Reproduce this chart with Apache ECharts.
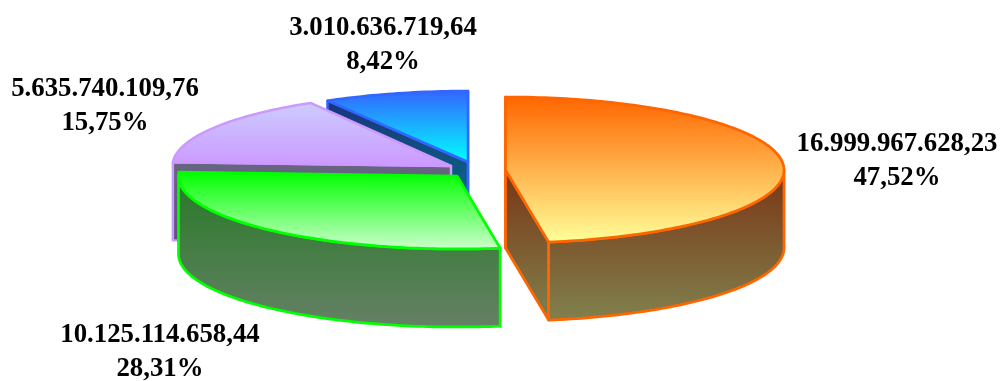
<!DOCTYPE html>
<html>
<head>
<meta charset="utf-8">
<style>html,body{margin:0;padding:0;background:#fff}#c{width:1003px;height:381px}</style>
<script src="https://cdn.jsdelivr.net/npm/echarts@6/dist/echarts.min.js"></script>
</head>
<body>
<div id="c"></div>
<script>
// Data, clockwise from 12 o'clock
const categories = ['Fatia 1', 'Fatia 2', 'Fatia 3', 'Fatia 4'];
const values = [16999967628.23, 10125114658.44, 5635740109.76, 3010636719.64];
const valueLabels = ['16.999.967.628,23', '10.125.114.658,44', '5.635.740.109,76', '3.010.636.719,64'];
const percentLabels = ['47,52%', '28,31%', '15,75%', '8,42%'];

// Style
const topFrom = ['#FF6600', '#00FF00', '#CCCCFF', '#3366FF'];
const topTo = ['#FFFF99', '#CCFFCC', '#CC99FF', '#00FFFF'];
const sideFrom = ['#7A3514', '#267A26', '#666680', '#1A3380'];
const sideTo = ['#80804D', '#668066', '#664D80', '#008080'];
const borders = ['#FF6600', '#00FF00', '#CC99FF', '#3366FF'];
const borderWidths = [2.75, 2.75, 2.5, 2.5];

// Layout
const centers = [[505.5, 170], [457, 176], [451, 166], [468, 162]];
const radiiY = [73, 73, 73, 71];
const labelAt = [[897, 144], [160, 335], [105, 89], [383, 28]];
const RX = 278.5, DEPTH = 78, LINE_GAP = 34;

const total = values.reduce((a, b) => a + b, 0);
const starts = [];
values.reduce((acc, v, i) => { starts[i] = acc; return acc + v; }, 0);

function pt(c, ry, a, dy) {
  return [c[0] + RX * Math.sin(a), c[1] - ry * Math.cos(a) + (dy || 0)];
}
function arc(c, ry, a0, a1, dy) {
  const n = Math.max(2, Math.ceil(Math.abs(a1 - a0) / 0.02));
  const out = [];
  for (let k = 0; k <= n; k++) out.push(pt(c, ry, a0 + (a1 - a0) * k / n, dy));
  return out;
}
function grad(y0, y1, from, to) {
  return new echarts.graphic.LinearGradient(0, y0, 0, y1, [
    { offset: 0, color: from }, { offset: 1, color: to }
  ], true);
}
function poly(points, fill, stroke, w) {
  return {
    type: 'polygon',
    shape: { points },
    style: { fill, stroke, lineWidth: w, lineJoin: 'round' }
  };
}

function renderItem(params, api) {
  const i = api.value(0), v = api.value(1);
  const a0 = starts[i] / total * 2 * Math.PI;
  const a1 = (starts[i] + v) / total * 2 * Math.PI;
  const c = centers[i], ry = radiiY[i], w = borderWidths[i];
  const mid = (a0 + a1) / 2;
  const visibleFaces = [];
  [a0, a1].forEach(a => {
    const ex = Math.sin(a), ey = -Math.cos(a) * ry / RX;
    const mx = Math.sin(mid), my = -Math.cos(mid) * ry / RX;
    const crossM = ex * my - ey * mx;
    const crossD = ex; // cross of edge with the straight-down vector
    if (crossM * crossD <= 1e-6) visibleFaces.push(a);
  });
  const oa0 = Math.max(a0, Math.PI / 2), oa1 = Math.min(a1, 3 * Math.PI / 2);
  const hasOuter = oa1 > oa0;

  const topArc = arc(c, ry, a0, a1);
  const sideYs = [c[1]];
  // A face seen edge-on has no area, so it does not stretch the side gradient
  visibleFaces.forEach(a => { if (Math.abs(Math.sin(a)) > 1e-6) sideYs.push(pt(c, ry, a)[1]); });
  let outerPts = null;
  if (hasOuter) {
    outerPts = arc(c, ry, oa0, oa1);
    outerPts.forEach(p => sideYs.push(p[1]));
  }
  const ys0 = Math.min.apply(null, sideYs);
  const ys1 = Math.max.apply(null, sideYs) + DEPTH;
  const sideFill = grad(ys0, ys1, sideFrom[i], sideTo[i]);

  const children = [];
  visibleFaces.forEach(a => {
    children.push(poly([c, pt(c, ry, a), pt(c, ry, a, DEPTH), [c[0], c[1] + DEPTH]], sideFill, borders[i], w));
  });
  if (hasOuter) {
    const lower = arc(c, ry, oa1, oa0, DEPTH);
    children.push(poly(outerPts.concat(lower), sideFill, borders[i], w));
  }
  const topPts = [c].concat(topArc);
  const tys = topPts.map(p => p[1]);
  children.push(poly(topPts,
    grad(Math.min.apply(null, tys), Math.max.apply(null, tys), topFrom[i], topTo[i]),
    borders[i], w));

  [valueLabels[i], percentLabels[i]].forEach((t, k) => {
    children.push({
      type: 'text',
      z2: 100,
      style: {
        x: labelAt[i][0], y: labelAt[i][1] + k * LINE_GAP,
        text: t,
        fill: '#000',
        align: 'center', verticalAlign: 'middle',
        font: 'bold 26.8px "Liberation Serif"'
      }
    });
  });
  return { type: 'group', children };
}

const chart = echarts.init(document.getElementById('c'), null, { renderer: 'canvas' });
// Rear slices are painted first, so the data runs back to front
const drawOrder = values.map((v, i) => [i, v, categories[i]]).reverse();
chart.setOption({
  backgroundColor: '#fff',
  animation: false,
  series: [{
    type: 'custom',
    coordinateSystem: 'none',
    silent: true,
    clip: false,
    renderItem,
    data: drawOrder
  }]
});
</script>
</body>
</html>
